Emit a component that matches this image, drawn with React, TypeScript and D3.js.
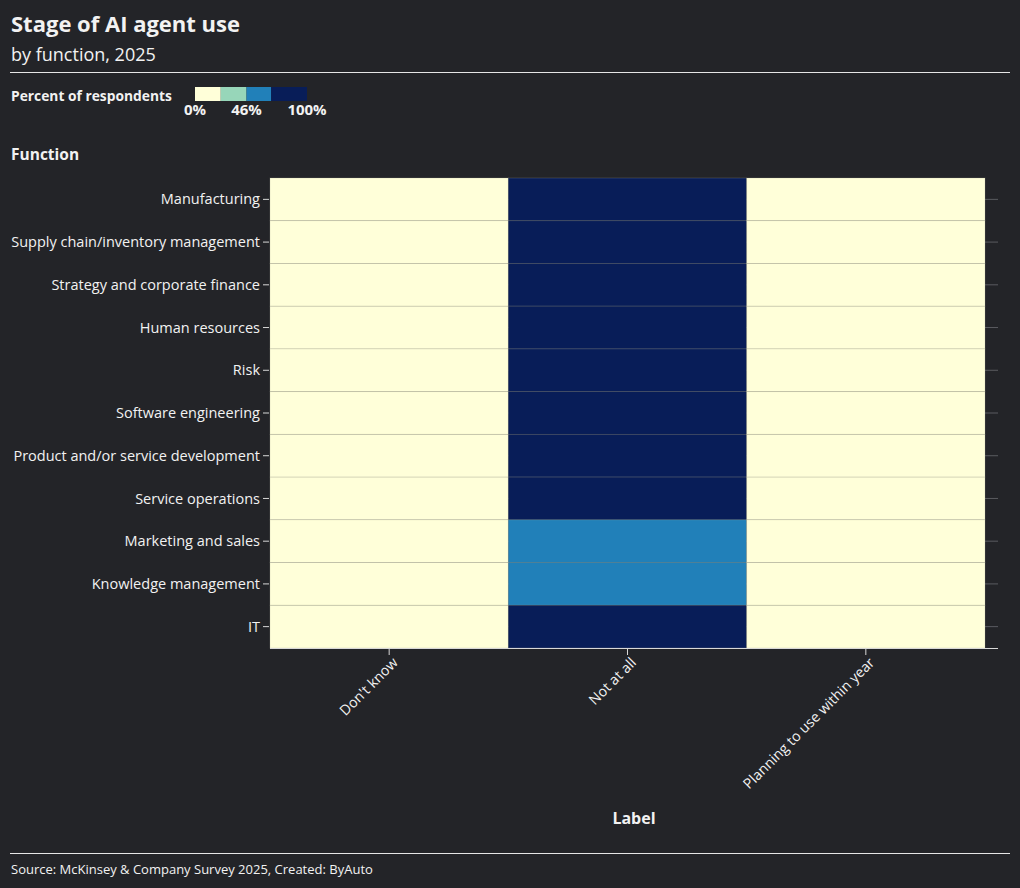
import React from "react";
import * as d3 from "d3";

const functions = [
  "Manufacturing",
  "Supply chain/inventory management",
  "Strategy and corporate finance",
  "Human resources",
  "Risk",
  "Software engineering",
  "Product and/or service development",
  "Service operations",
  "Marketing and sales",
  "Knowledge management",
  "IT",
];

const stages = ["Don't know", "Not at all", "Planning to use within year"];

// percent of respondents per function, one array per stage
const dontKnow = [0, 0, 0, 0, 0, 0, 0, 0, 0, 0, 0];
const notAtAll = [100, 100, 100, 100, 100, 100, 100, 100, 62, 60, 100];
const planning = [0, 0, 0, 0, 0, 0, 0, 0, 0, 0, 0];

const colorThresholds = [23, 46, 68];
const colorRange = ["#ffffd9", "#97d6b9", "#2180b9", "#081d58"];
const legendTicks = [0, 46, 100];

const W = 1020;
const H = 888;
const FONT = "'Open Sans', 'Noto Sans', sans-serif";
const BG = "#232428";
const TEXT = "#f2f2f2";

export default function App() {
  const margin = { left: 270, right: 35, top: 178, bottom: 240 };
  const plotW = W - margin.left - margin.right;
  const plotH = H - margin.top - margin.bottom;

  const x = d3.scaleBand<string>().domain(stages).range([margin.left, margin.left + plotW]);
  const y = d3.scaleBand<string>().domain(functions).range([margin.top, margin.top + plotH]);
  const color = d3.scaleThreshold<number, string>().domain(colorThresholds).range(colorRange);

  const series = [dontKnow, notAtAll, planning];
  const cells = stages.flatMap((s, si) =>
    functions.map((f, fi) => ({ stage: s, fn: f, value: series[si][fi] }))
  );

  // legend
  const legX = d3.scaleLinear().domain([0, 100]).range([195, 307]);
  const legBounds = [0, ...colorThresholds, 100];

  const gridRight = W - 22;
  const axisY = margin.top + plotH;

  return (
    <svg
      width={W}
      height={H}
      style={{ position: "absolute", left: 0, top: 0, display: "block", background: BG }}
      fontFamily={FONT}
    >
      <rect width={W} height={H} fill={BG} />

      <text x={11} y={32} fill={TEXT} fontSize={22} fontWeight={700}>
        Stage of AI agent use
      </text>
      <text x={11} y={61} fill={TEXT} fontSize={18}>
        by function, 2025
      </text>
      <line x1={10} x2={1010} y1={72.5} y2={72.5} stroke="#e6e6e6" strokeWidth={1} />

      <text x={11} y={101} fill={TEXT} fontSize={13.8} fontWeight={700}>
        Percent of respondents
      </text>
      {legBounds.slice(0, -1).map((b, i) => (
        <rect
          key={"lg" + i}
          x={legX(b)}
          y={87}
          width={legX(legBounds[i + 1]) - legX(b)}
          height={14}
          fill={colorRange[i]}
        />
      ))}
      {legendTicks.map((t) => (
        <text
          key={"lt" + t}
          x={legX(t)}
          y={115}
          fill={TEXT}
          fontSize={15}
          fontWeight={700}
          textAnchor="middle"
        >
          {t}%
        </text>
      ))}

      <text x={11} y={160} fill={TEXT} fontSize={15.5} fontWeight={700}>
        Function
      </text>

      {/* row gridlines */}
      {functions.map((f) => (
        <line
          key={"g" + f}
          x1={margin.left}
          x2={gridRight}
          y1={y(f)! + y.bandwidth() / 2}
          y2={y(f)! + y.bandwidth() / 2}
          stroke="#5a5b60"
          strokeWidth={1}
        />
      ))}

      {/* cells */}
      {cells.map((c) => (
        <rect
          key={c.stage + c.fn}
          x={x(c.stage)}
          y={y(c.fn)}
          width={x.bandwidth()}
          height={y.bandwidth()}
          fill={color(c.value)}
          stroke="rgba(170,170,150,0.3)"
          strokeWidth={0.8}
        />
      ))}

      {/* y axis */}
      {functions.map((f) => {
        const cy = y(f)! + y.bandwidth() / 2;
        return (
          <g key={"yt" + f}>
            <line x1={margin.left - 7} x2={margin.left - 1} y1={cy} y2={cy} stroke="#d8d8d8" />
            <text
              x={margin.left - 10}
              y={cy}
              dy="0.35em"
              fill={TEXT}
              fontSize={14.5}
              textAnchor="end"
            >
              {f}
            </text>
          </g>
        );
      })}

      {/* x axis */}
      <line x1={margin.left} x2={gridRight} y1={axisY + 0.5} y2={axisY + 0.5} stroke="#d8d8d8" />
      {stages.map((s) => {
        const cx = x(s)! + x.bandwidth() / 2;
        return (
          <g key={"xt" + s}>
            <line x1={cx} x2={cx} y1={axisY} y2={axisY + 7} stroke="#d8d8d8" />
            <text
              transform={`translate(${cx + 6},${axisY + 12}) rotate(-45)`}
              fill={TEXT}
              fontSize={14.2}
              textAnchor="end"
              dy="0.35em"
            >
              {s}
            </text>
          </g>
        );
      })}

      <text x={634} y={824} fill={TEXT} fontSize={16} fontWeight={700} textAnchor="middle">
        Label
      </text>

      <line x1={10} x2={1010} y1={853.5} y2={853.5} stroke="#e6e6e6" strokeWidth={1} />
      <text x={11} y={874} fill={TEXT} fontSize={13}>
        Source: McKinsey &amp; Company Survey 2025, Created: ByAuto
      </text>
    </svg>
  );
}
